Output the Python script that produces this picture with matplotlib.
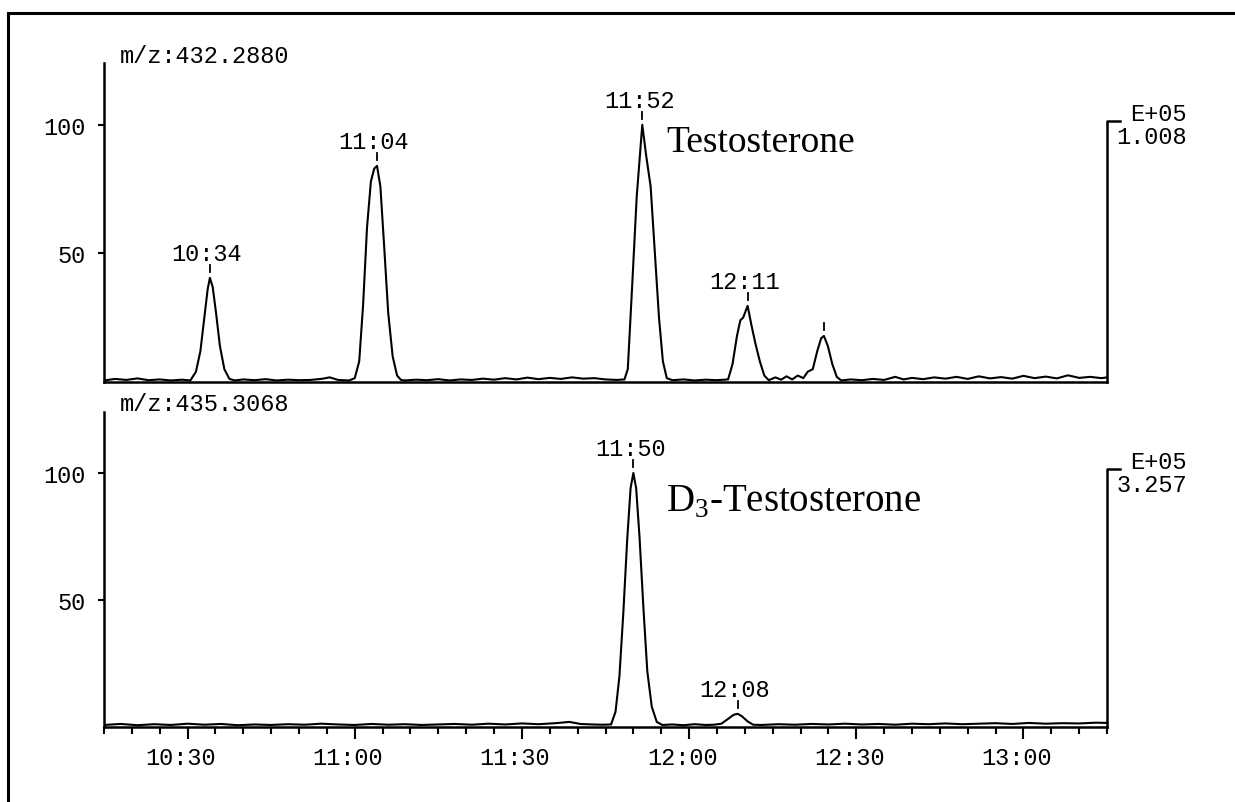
import numpy as np
import matplotlib
matplotlib.use("Agg")
import matplotlib.pyplot as plt
from matplotlib.lines import Line2D
from matplotlib.transforms import blended_transform_factory, ScaledTranslation

plt.rcParams['font.family'] = ['Liberation Mono', 'DejaVu Sans']
plt.rcParams['mathtext.fontset'] = 'custom'
plt.rcParams['mathtext.rm'] = 'Liberation Serif'

# retention time in seconds, intensity in % of the panel maximum
top_t = [615, 617, 619, 621, 623, 625, 627, 629, 630.5, 631.5, 632.3, 633, 633.6, 634,
         634.5, 635.1, 635.8, 636.6, 637.5, 638.5, 640, 642, 644, 646, 648, 650, 652, 654,
         655.5, 657, 659, 660, 660.8, 661.5, 662.2, 662.9, 663.5, 664, 664.6, 665.3, 666,
         666.8, 667.6, 668.3, 669, 671, 673, 675, 677, 679, 681, 683, 685, 687, 689, 691,
         693, 695, 697, 699, 701, 703, 705, 707, 708.4, 709, 709.8, 710.6, 711.6, 712.3,
         713.1, 713.8, 714.6, 715.3, 716, 717, 719, 721, 723, 725, 727, 727.8, 728.6,
         729.2, 729.7, 730.5, 731.2, 731.9, 732.7, 733.5, 734.3, 735.5, 736.5, 737.5,
         738.5, 739.5, 740.5, 741.3, 742.2, 743, 743.7, 744.2, 744.9, 745.7, 746.5, 747.3,
         749, 751, 753, 755, 757, 758.5, 760, 762, 764, 766, 768, 770, 772, 774, 776, 778,
         780, 782, 784, 786, 788, 790, 792, 794, 795]
top_i = [0.6, 1.2, 0.8, 1.4, 0.7, 1.0, 0.6, 0.9, 0.6, 4, 12, 25, 36, 40.5,
         37, 27, 14, 5, 1.2, 0.6, 1.0, 0.7, 1.1, 0.6, 0.9, 0.7, 0.8, 1.2,
         1.8, 0.8, 0.6, 1.5, 8, 30, 60, 78, 83, 84, 76, 52, 27,
         10, 2.5, 0.8, 0.6, 0.9, 0.7, 1.1, 0.6, 1.0, 0.8, 1.3, 0.9, 1.5, 1.0, 1.7,
         1.1, 1.6, 1.2, 1.8, 1.3, 1.5, 1.0, 0.8, 1.0, 5, 38, 72, 100, 88,
         76, 52, 25, 8, 1.5, 0.7, 1.0, 0.6, 0.9, 0.7, 1.0, 7, 18,
         24, 25, 29.6, 22, 15, 8, 2.5, 0.7, 1.8, 0.9, 2.2,
         1.0, 2.5, 1.5, 4, 5, 12, 17, 17.9, 14, 7, 2, 0.6,
         1.0, 0.7, 1.2, 0.8, 2.0, 1.0, 1.6, 1.1, 1.8, 1.3, 2.0, 1.2, 2.2, 1.4, 1.9, 1.3,
         2.4, 1.5, 2.1, 1.4, 2.6, 1.6, 2.0, 1.5, 1.8]

bot_t = [615, 618, 621, 624, 627, 630, 633, 636, 639, 642, 645, 648, 651, 654, 657, 660,
         663, 666, 669, 672, 675, 678, 681, 684, 687, 690, 693, 696, 698.5, 700.5, 702.5,
         704.5, 706, 706.8, 707.5, 708.2, 708.9, 709.5, 710, 710.5, 711.1, 711.8, 712.5,
         713.3, 714.2, 715.2, 717, 719, 721, 723, 724.5, 725.8, 727, 728, 728.7, 729.5,
         730.5, 731.5, 733, 736, 739, 742, 745, 748, 751, 754, 757, 760, 763, 766, 769,
         772, 775, 778, 781, 784, 787, 790, 793, 795]
bot_i = [0.8, 1.2, 0.7, 1.1, 0.8, 1.3, 0.9, 1.2, 0.7, 1.0, 0.8, 1.1, 0.9, 1.3, 1.0, 0.8,
         1.2, 0.9, 1.1, 0.8, 1.0, 1.2, 0.9, 1.3, 1.0, 1.4, 1.1, 1.5, 2.0, 1.2, 1.0,
         0.9, 1.0, 6, 20, 45, 74, 94, 100, 94, 75, 47, 22,
         8, 2, 0.8, 1.0, 0.7, 1.1, 0.8, 0.9, 1.3, 3.2, 4.8, 5.2, 4.2,
         2.2, 0.9, 0.8, 1.1, 0.9, 1.2, 1.0, 1.3, 1.0, 1.2, 0.9, 1.3, 1.1, 1.4, 1.1,
         1.3, 1.5, 1.2, 1.6, 1.3, 1.5, 1.4, 1.7, 1.6]

top_peaks = [634, 664, 711.6, 730.5, 744.2]
top_labels = ["10:34", "11:04", "11:52", "12:11", ""]
bot_peaks = [710, 728.7]
bot_labels = ["11:50", "12:08"]

mz_labels = ["m/z:432.2880", "m/z:435.3068"]
scale_labels = ["1.008", "3.257"]
compounds = ["Testosterone", r"D$_\mathrm{3}$-Testosterone"]

x_major = [630, 660, 690, 720, 750, 780]
x_minor = list(range(615, 796, 5))

W, H = 1235, 803
fig = plt.figure(figsize=(W / 100, H / 100), dpi=100)


def add_ax(left, right, top, bottom):
    return fig.add_axes([left / W, 1 - bottom / H, (right - left) / W, (bottom - top) / H])


ax1 = add_ax(104, 1107, 64, 383)
ax2 = add_ax(104, 1107, 413, 728)
ymax = 124

panels = [
    (ax1, top_t, top_i, top_peaks, top_labels, 0.561, 0.723, 27),
    (ax2, bot_t, bot_i, bot_peaks, bot_labels, 0.560, 0.686, 28),
]

for k, (ax, t, inten, peaks, plabels, cx, cy, csize) in enumerate(panels):
    ax.plot(t, inten, color='black', lw=1.5)
    ax.set_xlim(615, 795)
    ax.set_ylim(0, ymax)
    for s in ['top', 'right']:
        ax.spines[s].set_visible(False)
    for s in ['left', 'bottom']:
        ax.spines[s].set_linewidth(1.8)
    ax.set_yticks([50, 100])
    ax.tick_params(axis='y', direction='out', length=4.5, width=1.5, labelsize=17, pad=9)

    # px per unit of intensity
    ppu = ax.get_position().height * H / ymax
    for p, lab in zip(peaks, plabels):
        h = np.interp(p, t, inten)
        ax.plot([p, p], [h + 6 / ppu, h + 13 / ppu], color='black', lw=1.3)
        if lab:
            ax.annotate(lab, xy=(p, h), xytext=(-3, 24), textcoords='offset pixels',
                        ha='center', va='center', fontsize=17)

    ax.text(0, 1, mz_labels[k], transform=ax.transAxes + ScaledTranslation(0.16, 0.08, fig.dpi_scale_trans),
            ha='left', va='center', fontsize=17)

    # right-hand scale bracket
    tr = blended_transform_factory(ax.transAxes, ax.transData)
    ax.plot([1, 1, 1 + 13 / 1003], [0, 101.6, 101.6], color='black', lw=1.8,
            transform=tr, clip_on=False)
    ax.annotate("E+05", xy=(1, 101.6), xycoords=tr, xytext=(80, 7), textcoords='offset pixels',
                ha='right', va='center', fontsize=17)
    ax.annotate(scale_labels[k], xy=(1, 101.6), xycoords=tr, xytext=(80, -16),
                textcoords='offset pixels', ha='right', va='center', fontsize=17)

    ax.text(cx, cy, compounds[k], transform=ax.transAxes, ha='left', va='baseline',
            fontsize=csize, family='Liberation Serif')

ax1.tick_params(axis='x', length=0, labelbottom=False)
ax1.set_xticks([])

ax2.set_xticks(x_major)
ax2.set_xticklabels([f"{v // 60}:{v % 60:02d}" for v in x_major])
ax2.set_xticks(x_minor, minor=True)
ax2.tick_params(axis='x', which='major', direction='out', length=8.5, width=1.5, labelsize=17, pad=5)
ax2.tick_params(axis='x', which='minor', direction='out', length=5, width=1.5)
for lbl in ax2.get_xticklabels():
    lbl.set_transform(lbl.get_transform() + ScaledTranslation(-0.07, 0, fig.dpi_scale_trans))

# outer frame
fig.add_artist(Line2D([8 / W, 8 / W], [0, 1 - 14 / H], color='black', lw=2.2, transform=fig.transFigure))
fig.add_artist(Line2D([8 / W, 1], [1 - 14 / H, 1 - 14 / H], color='black', lw=2.2, transform=fig.transFigure))

fig.savefig("out.png", dpi=100)
